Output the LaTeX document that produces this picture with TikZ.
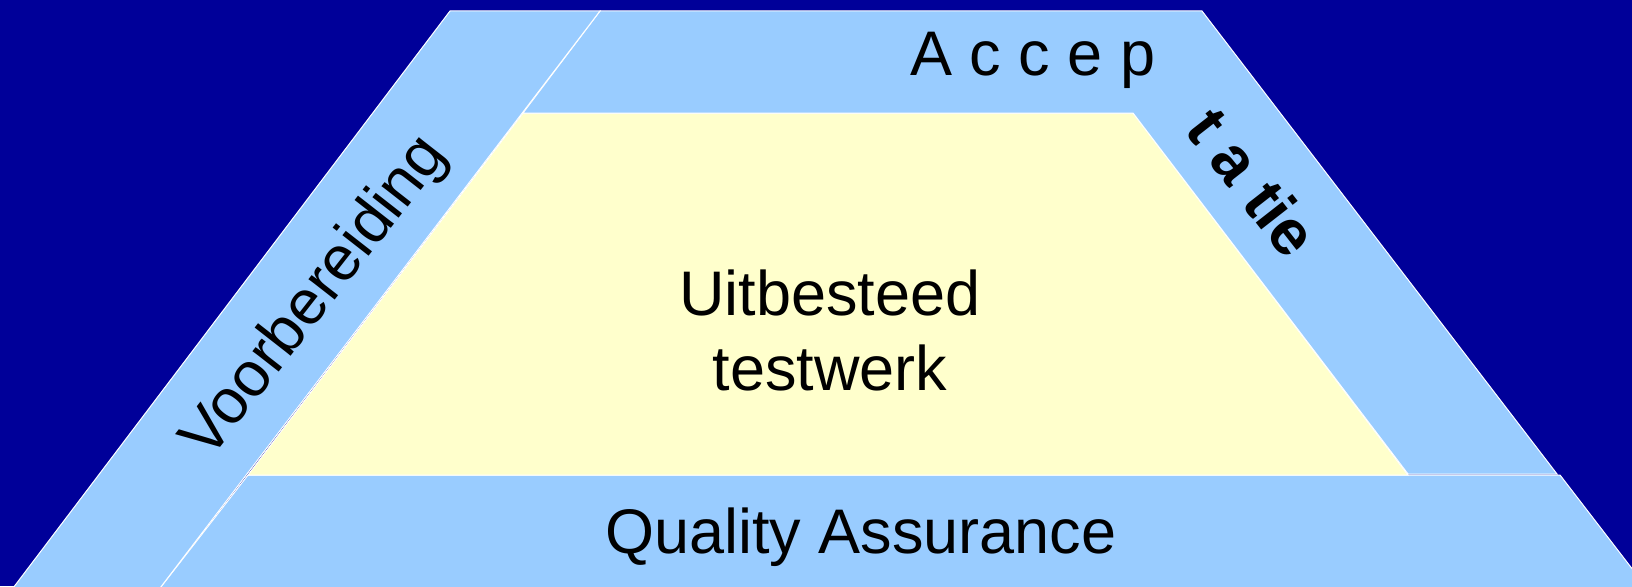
\documentclass[tikz,border=0pt]{standalone}
\usepackage{fontspec}
\setmainfont{Liberation Sans}
\usepackage{tikz}
\definecolor{navy}{RGB}{0,0,153}
\definecolor{skyband}{RGB}{153,204,255}
\definecolor{paleyellow}{RGB}{255,255,204}
\tikzset{
    band/.style={fill=skyband, draw=white, line width=1pt},
    core/.style={fill=paleyellow, draw=white, line width=1pt},
    lbl/.style={inner sep=0pt, font=\fontsize{63}{75}\selectfont}
}

\begin{document}
\begin{tikzpicture}[x=1pt, y=-1pt]
        \fill[navy] (0, 0) rectangle (1632, 586);
        \useasboundingbox (0, 0) rectangle (1632, 586);
        \begin{scope}
        \clip (0, 0) rectangle (1632, 586);
        \draw[band] (248, 475) -- (1560, 475) -- (1650, 592) -- (157, 592) -- cycle;
        \draw[core] (523, 113) -- (1133, 113) -- (1408, 475) -- (248, 475) -- cycle;
        \draw[band] (600, 11) -- (1202, 11) -- (1557, 474) -- (1408, 474) -- (1133, 113) -- (523, 113) -- cycle;
        \draw[band] (450, 11) -- (600, 11) -- (157, 592) -- (10, 592) -- cycle;
        \end{scope}
        \node[lbl, anchor=base] (accep) at (1033, 75) {A c c e p};
        \node[lbl, font=\fontsize{64}{76}\selectfont\bfseries, rotate=-52] (tatie) at (1253, 182) {t a tie};
        \node[lbl, rotate=52] (voorbereiding) at (316, 298) {Voorbereiding};
        \node[lbl, align=center] (uitbesteed) at (830, 330) {Uitbesteed\\testwerk};
        \node[lbl, anchor=base] (qa) at (861, 553) {Quality Assurance};
    \end{tikzpicture}
\end{document}
